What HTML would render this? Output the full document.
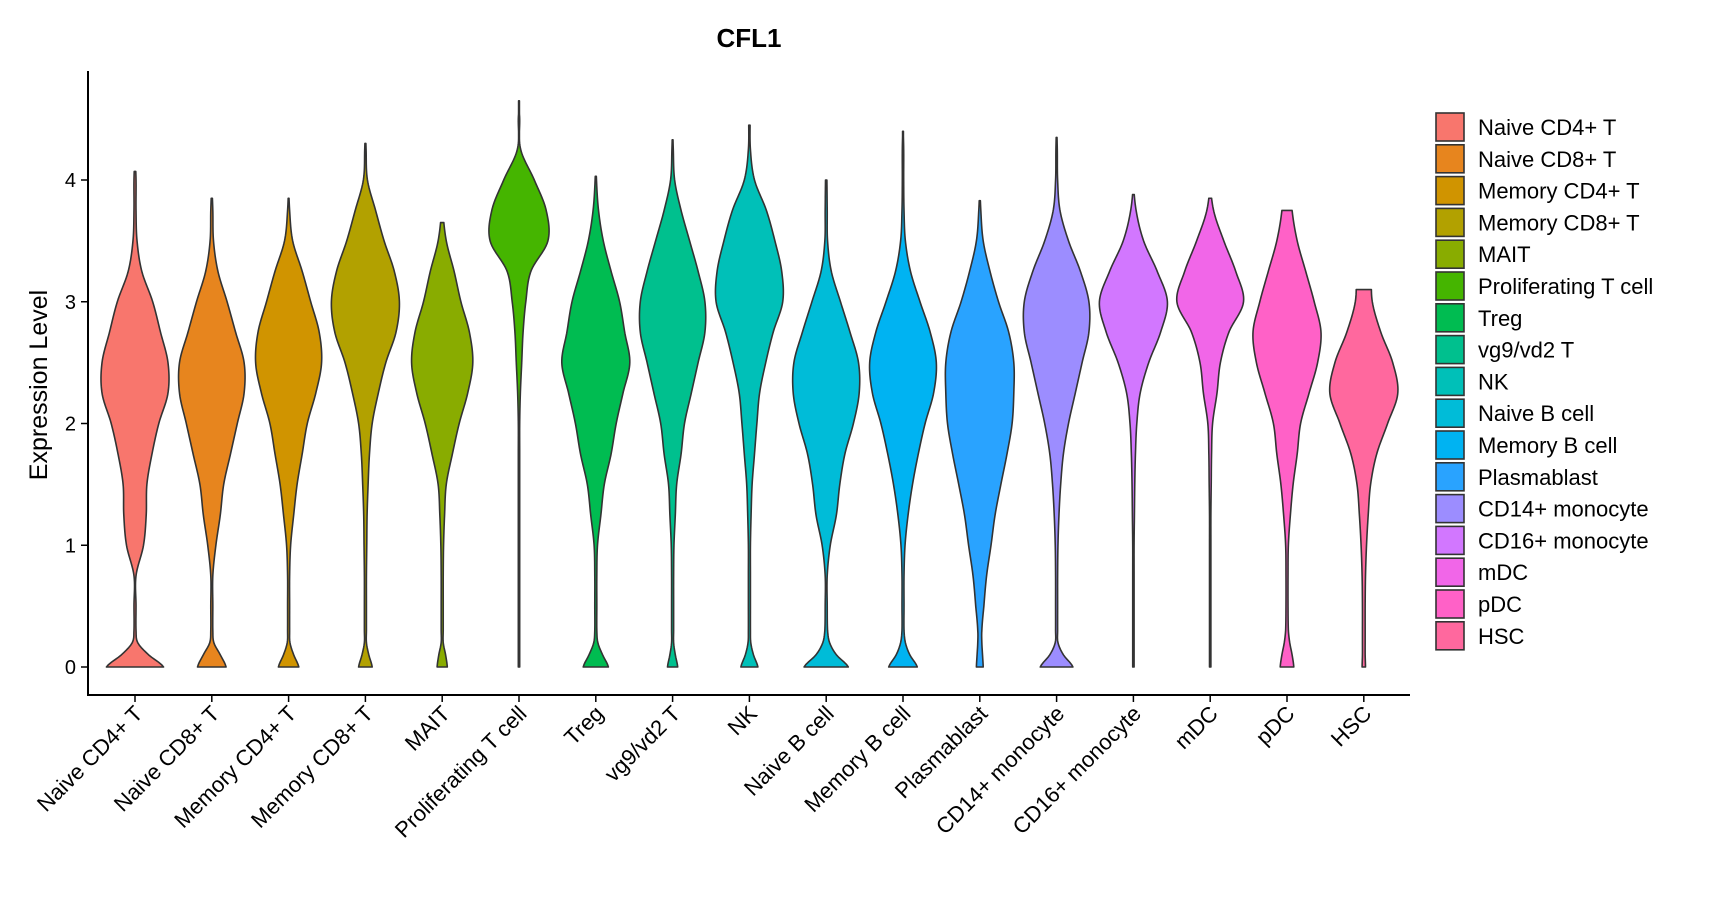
<!DOCTYPE html>
<html><head><meta charset="utf-8"><style>
html,body{margin:0;padding:0;background:#fff;}
svg{display:block;font-family:"Liberation Sans","DejaVu Sans",sans-serif;}
</style></head><body>
<svg id="chart" width="1717" height="900" viewBox="0 0 1717 900" xmlns="http://www.w3.org/2000/svg">
<text x="749" y="47" text-anchor="middle" font-size="26" font-weight="bold" fill="#000">CFL1</text>
<text transform="translate(47,385) rotate(-90)" text-anchor="middle" font-size="25" fill="#000">Expression Level</text>
<g id="plot"></g>
<g id="legend"></g>
</svg>
<script>
const categories = ["Naive CD4+ T","Naive CD8+ T","Memory CD4+ T","Memory CD8+ T","MAIT","Proliferating T cell","Treg","vg9/vd2 T","NK","Naive B cell","Memory B cell","Plasmablast","CD14+ monocyte","CD16+ monocyte","mDC","pDC","HSC"];
const colors = ["#F8766D","#E7851E","#D09400","#B2A100","#89AC00","#45B500","#00BC51","#00C08E","#00C0B8","#00BCD8","#00B3F2","#29A3FF","#9C8DFF","#D277FF","#F166E8","#FF61C7","#FF689E"];
const levels = [0,0.1,0.2,0.3,0.5,0.75,1,1.25,1.5,1.75,2,2.25,2.5,2.75,3,3.25,3.5,3.75,4,4.25,4.5];
const maxValues = [4.07,3.85,3.85,4.3,3.65,4.65,4.03,4.33,4.45,4.0,4.4,3.83,4.35,3.88,3.85,3.75,3.1];
const densities = [
[0.84,0.4,0.08,0.03,0.03,0.03,0.25,0.33,0.35,0.5,0.7,0.97,0.97,0.75,0.52,0.2,0.06,0.03,0.03,0,0],
[0.42,0.25,0.06,0.03,0.03,0.03,0.12,0.25,0.35,0.55,0.75,0.95,0.95,0.7,0.45,0.18,0.05,0.03,0,0,0],
[0.3,0.15,0.04,0.03,0.03,0.03,0.06,0.15,0.25,0.4,0.55,0.8,0.97,0.9,0.65,0.4,0.12,0.03,0,0,0],
[0.2,0.1,0.03,0.03,0.03,0.03,0.04,0.05,0.08,0.12,0.2,0.38,0.6,0.9,1.0,0.85,0.55,0.3,0.06,0.02,0],
[0.15,0.1,0.03,0.03,0.03,0.03,0.04,0.07,0.12,0.3,0.5,0.75,0.9,0.8,0.55,0.35,0.12,0.02,0,0,0],
[0.02,0.02,0.02,0.02,0.02,0.02,0.02,0.02,0.02,0.02,0.02,0.04,0.08,0.12,0.2,0.35,0.85,0.8,0.45,0.05,0.02],
[0.37,0.2,0.06,0.03,0.03,0.03,0.05,0.15,0.25,0.45,0.6,0.8,1.0,0.85,0.7,0.45,0.22,0.08,0.02,0,0],
[0.15,0.08,0.03,0.03,0.03,0.03,0.04,0.08,0.12,0.25,0.35,0.55,0.75,0.95,0.95,0.75,0.5,0.25,0.06,0.02,0],
[0.25,0.12,0.04,0.03,0.03,0.03,0.03,0.05,0.08,0.15,0.22,0.3,0.48,0.7,0.98,0.95,0.75,0.5,0.15,0.03,0.02],
[0.65,0.3,0.1,0.04,0.03,0.03,0.12,0.3,0.4,0.55,0.8,0.97,0.95,0.7,0.42,0.15,0.04,0.03,0.02,0,0],
[0.42,0.2,0.07,0.03,0.03,0.03,0.06,0.15,0.28,0.45,0.65,0.9,0.98,0.8,0.5,0.22,0.07,0.03,0.02,0.02,0],
[0.1,0.08,0.06,0.06,0.12,0.2,0.33,0.45,0.62,0.8,0.95,1.0,1.0,0.85,0.55,0.3,0.1,0.03,0,0,0],
[0.48,0.2,0.04,0.03,0.03,0.03,0.04,0.07,0.12,0.2,0.35,0.55,0.75,0.95,0.95,0.7,0.35,0.1,0.03,0.02,0],
[0.02,0.02,0.02,0.02,0.02,0.02,0.02,0.03,0.04,0.06,0.1,0.2,0.45,0.8,1.0,0.7,0.3,0.08,0,0,0],
[0.02,0.02,0.02,0.02,0.02,0.02,0.02,0.02,0.03,0.04,0.07,0.2,0.3,0.55,0.98,0.75,0.4,0.1,0,0,0],
[0.2,0.15,0.08,0.04,0.03,0.03,0.04,0.1,0.18,0.3,0.4,0.65,0.9,1.0,0.8,0.55,0.3,0.15,0.1,0,0],
[0.05,0.04,0.04,0.04,0.04,0.05,0.08,0.13,0.2,0.38,0.7,1.0,0.85,0.5,0.25,0.2,0,0,0,0,0]
];
const yTicks = [0,1,2,3,4];

const NS = "http://www.w3.org/2000/svg";
const plot = document.getElementById("plot");
const legend = document.getElementById("legend");
const X0 = 88, X1 = 1410, YTOP = 71, YBASE = 695;
const xFirst = 135, xStep = 76.8;
function xScale(i){ return xFirst + i * xStep; }
function yScale(v){ return 667 - v * 121.75; }
const HALF = 34;
function mk(tag, attrs){ const e = document.createElementNS(NS, tag); for (const k in attrs) e.setAttribute(k, attrs[k]); return e; }

function densAt(d, v){
  let i = 0;
  while (i < levels.length - 2 && v > levels[i+1]) i++;
  const t = (v - levels[i]) / (levels[i+1] - levels[i]);
  const p0 = d[Math.max(i-1,0)], p1 = d[i], p2 = d[i+1], p3 = d[Math.min(i+2, d.length-1)];
  const t2 = t*t, t3 = t2*t;
  const r = 0.5*((2*p1) + (-p0+p2)*t + (2*p0-5*p1+4*p2-p3)*t2 + (-p0+3*p1-3*p2+p3)*t3);
  return Math.max(r, 0.012);
}

categories.forEach((c, i) => {
  const cx = xScale(i), d = densities[i], mx = maxValues[i];
  const pts = [];
  for (let v = 0; v <= mx + 1e-9; v += 0.02) pts.push([v, densAt(d, v)]);
  pts.push([mx, densAt(d, mx)]);
  let s = "";
  pts.forEach((p, k) => { s += (k ? "L" : "M") + (cx + p[1]*HALF).toFixed(2) + "," + yScale(p[0]).toFixed(2); });
  for (let k = pts.length - 1; k >= 0; k--) s += "L" + (cx - pts[k][1]*HALF).toFixed(2) + "," + yScale(pts[k][0]).toFixed(2);
  s += "Z";
  const path = mk("path", {d: s, fill: colors[i], stroke: "#333", "stroke-width": "1.6", "stroke-linejoin": "round"});
  
  
  plot.appendChild(path);

  const tk = mk("line", {x1: cx, x2: cx, y1: YBASE, y2: YBASE + 7, stroke: "#000", "stroke-width": "1.5"});
  
  
  plot.appendChild(tk);
  const lb = mk("text", {transform: "translate(" + (cx + 9) + "," + (YBASE + 20) + ") rotate(-45)", "text-anchor": "end", "font-size": "22", fill: "#000"});
  lb.textContent = c;
  
  
  plot.appendChild(lb);

  const ky = 112 + i * 31.8;
  const key = mk("rect", {x: 1436, y: ky + 1, width: 28, height: 28, fill: colors[i], stroke: "#333", "stroke-width": "1.6"});
  
  
  legend.appendChild(key);
  const lt = mk("text", {x: 1478, y: ky + 23, "font-size": "22", fill: "#000"});
  lt.textContent = c;
  
  
  legend.appendChild(lt);
});

yTicks.forEach(t => {
  const y = yScale(t);
  const l = mk("line", {x1: X0 - 7, x2: X0, y1: y, y2: y, stroke: "#000", "stroke-width": "1.5"});
  
  
  plot.appendChild(l);
  const tx = mk("text", {x: X0 - 12, y: y + 7, "text-anchor": "end", "font-size": "20", fill: "#000"});
  tx.textContent = t;
  
  
  plot.appendChild(tx);
});

const ya = mk("line", {x1: X0, x2: X0, y1: YTOP, y2: YBASE, stroke: "#000", "stroke-width": "2"});


plot.appendChild(ya);
const xa = mk("line", {x1: X0 - 1, x2: X1, y1: YBASE, y2: YBASE, stroke: "#000", "stroke-width": "2"});


plot.appendChild(xa);
</script>
</body></html>
